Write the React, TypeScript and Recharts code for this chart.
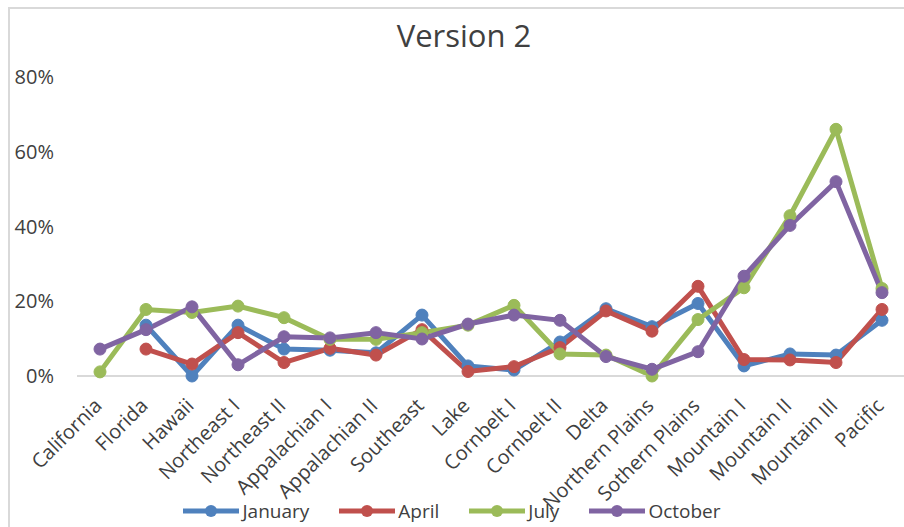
import React from "react";
import { LineChart, Line, XAxis, YAxis } from "recharts";

const categories = [
  "California", "Florida", "Hawaii", "Northeast I", "Northeast II", "Appalachian I",
  "Appalachian II", "Southeast", "Lake", "Cornbelt I", "Cornbelt II", "Delta",
  "Northern Plains", "Sothern Plains", "Mountain I", "Mountain II", "Mountain III", "Pacific",
];

const january = [null, 0.136, 0.0, 0.136, 0.072, 0.069, 0.062, 0.163, 0.027, 0.016, 0.091, 0.18, 0.132, 0.194, 0.027, 0.059, 0.056, 0.149];
const april = [null, 0.072, 0.032, 0.116, 0.036, 0.074, 0.056, 0.124, 0.012, 0.025, 0.076, 0.174, 0.12, 0.24, 0.044, 0.043, 0.036, 0.178];
const july = [0.011, 0.178, 0.17, 0.187, 0.156, 0.098, 0.098, 0.116, 0.136, 0.189, 0.059, 0.056, 0.0, 0.151, 0.236, 0.429, 0.66, 0.234];
const october = [0.072, 0.124, 0.185, 0.03, 0.105, 0.102, 0.116, 0.099, 0.139, 0.163, 0.149, 0.052, 0.018, 0.065, 0.267, 0.403, 0.52, 0.223];

const yTicks = [0, 0.2, 0.4, 0.6, 0.8];

const seriesNames = ["January", "April", "July", "October"];
const seriesKeys = ["jan", "apr", "jul", "oct"];
const seriesColors = ["#4F81BD", "#C0504D", "#9BBB59", "#8064A2"];

const data = categories.map((c, i) => ({
  name: c,
  jan: january[i],
  apr: april[i],
  jul: july[i],
  oct: october[i],
}));

const FONT = "'Open Sans', sans-serif";
const TEXT = "#404040";

const XTick = (props: any) => {
  const { x, y, payload } = props;
  const ax = x + 3;
  const ay = y + 31;
  return (
    <text
      x={ax}
      y={ay}
      transform={`rotate(-45 ${ax} ${ay})`}
      textAnchor="end"
      fill={TEXT}
      fontSize={20}
      fontFamily={FONT}
    >
      {payload.value}
    </text>
  );
};

const YTick = (props: any) => {
  const { x, y, payload } = props;
  return (
    <text x={x} y={y} dy="0.35em" textAnchor="end" fill={TEXT} fontSize={20} fontFamily={FONT}>
      {`${Math.round(payload.value * 100)}%`}
    </text>
  );
};

export default function App() {
  return (
    <div
      style={{
        position: "fixed",
        left: 0,
        top: 0,
        width: 904,
        height: 527,
        overflow: "hidden",
        background: "#fff",
      }}
    >
      <div
        style={{
          position: "absolute",
          left: 8,
          top: 7,
          width: 1000,
          height: 1000,
          border: "2px solid #d9d9d9",
          boxSizing: "border-box",
        }}
      />
      <div
        style={{
          position: "absolute",
          left: 0,
          top: 14,
          width: 928,
          textAlign: "center",
          fontFamily: FONT,
          fontSize: 31,
          color: TEXT,
          lineHeight: "42px",
        }}
      >
        Version 2
      </div>
      <div style={{ position: "absolute", left: 0, top: 0 }}>
        <LineChart width={904} height={527} data={data} margin={{ top: 77, right: 0, left: 0, bottom: 0 }}>
          <XAxis
            dataKey="name"
            interval={0}
            height={151}
            tickSize={0}
            tickMargin={0}
            tickLine={false}
            axisLine={{ stroke: "#d9d9d9", strokeWidth: 2 }}
            padding={{ left: 23, right: 22 }}
            tick={<XTick />}
          />
          <YAxis
            width={77}
            domain={[0, 0.8]}
            ticks={yTicks}
            axisLine={false}
            tickLine={false}
            tickSize={0}
            tickMargin={23}
            tick={<YTick />}
          />
          {seriesKeys.map((k, i) => (
            <Line
              key={k}
              type="linear"
              dataKey={k}
              name={seriesNames[i]}
              stroke={seriesColors[i]}
              strokeWidth={5}
              dot={{ r: 6, fill: seriesColors[i], stroke: seriesColors[i], strokeWidth: 1 }}
              isAnimationActive={false}
            />
          ))}
        </LineChart>
      </div>
      <div
        style={{
          position: "absolute",
          left: 0,
          top: 499,
          width: 904,
          display: "flex",
          justifyContent: "center",
          gap: 30,
          fontFamily: FONT,
          fontSize: 19,
          color: TEXT,
          lineHeight: "24px",
        }}
      >
        {seriesNames.map((n, i) => (
          <div key={n} style={{ display: "flex", alignItems: "center" }}>
            <svg width={56} height={14}>
              <line x1={0} y1={7} x2={56} y2={7} stroke={seriesColors[i]} strokeWidth={5} />
              <circle cx={28} cy={7} r={6} fill={seriesColors[i]} />
            </svg>
            <span style={{ marginLeft: 3 }}>{n}</span>
          </div>
        ))}
      </div>
    </div>
  );
}
